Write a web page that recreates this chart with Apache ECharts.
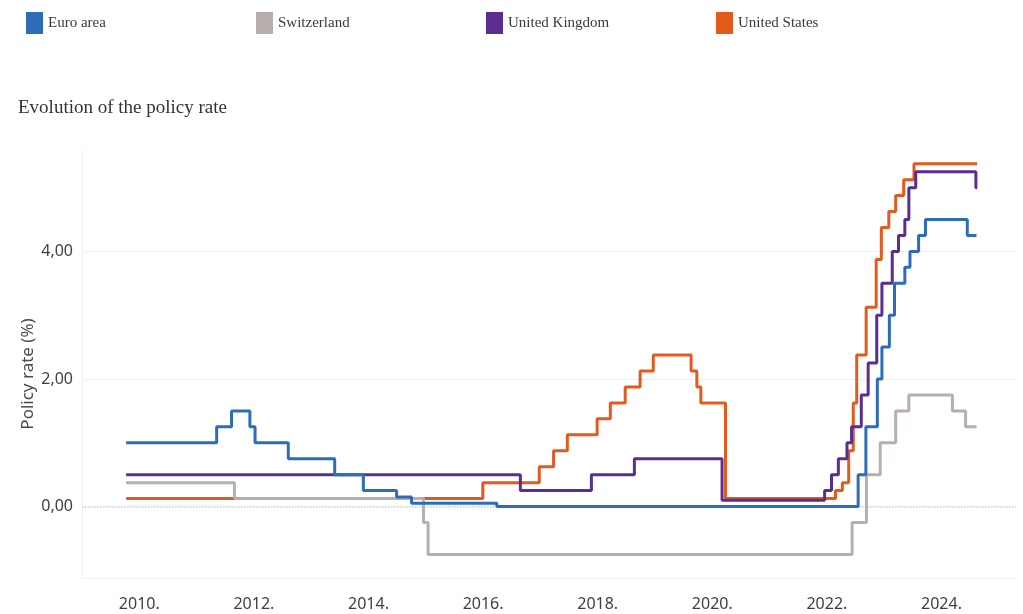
<!DOCTYPE html>
<html>
<head>
<meta charset="utf-8">
<script src="https://cdn.jsdelivr.net/npm/echarts@6/dist/echarts.min.js"></script>
<style>
  html, body { margin: 0; padding: 0; background: #fff; }
  #main { width: 1023px; height: 614px; }
</style>
</head>
<body>
<div id="main"></div>
<script>
    // [decimal year, rate %] - rate from that date onwards
    var euroArea = [
        [2009.77, 1.0], [2011.35, 1.25], [2011.61, 1.5], [2011.93, 1.25], [2012.02, 1.0],
        [2012.60, 0.75], [2013.41, 0.5], [2013.91, 0.25], [2014.49, 0.15], [2014.75, 0.05],
        [2016.24, 0.0], [2022.545, 0.5], [2022.68, 1.25], [2022.88, 2.0], [2022.96, 2.5],
        [2023.09, 3.0], [2023.18, 3.5], [2023.36, 3.75], [2023.45, 4.0], [2023.6, 4.25],
        [2023.72, 4.5], [2024.45, 4.25], [2024.61, 4.25]
    ];
    var switzerland = [
        [2009.77, 0.375], [2011.66, 0.125], [2014.96, -0.25], [2015.04, -0.75],
        [2022.44, -0.25], [2022.69, 0.5], [2022.93, 1.0], [2023.2, 1.5], [2023.43, 1.75],
        [2024.19, 1.5], [2024.42, 1.25], [2024.61, 1.25]
    ];
    var unitedKingdom = [
        [2009.77, 0.5], [2016.65, 0.25], [2017.89, 0.5], [2018.64, 0.75], [2020.17, 0.1],
        [2021.96, 0.25], [2022.08, 0.5], [2022.2, 0.75], [2022.35, 1.0], [2022.43, 1.25],
        [2022.6, 1.75], [2022.72, 2.25], [2022.87, 3.0], [2022.96, 3.5], [2023.14, 4.0],
        [2023.25, 4.25], [2023.36, 4.5], [2023.43, 5.0], [2023.55, 5.25], [2024.6, 5.0],
        [2024.62, 5.0]
    ];
    var unitedStates = [
        [2009.77, 0.125], [2015.995, 0.375], [2016.98, 0.625], [2017.23, 0.875], [2017.47, 1.125],
        [2017.99, 1.375], [2018.22, 1.625], [2018.48, 1.875], [2018.74, 2.125], [2018.97, 2.375],
        [2019.63, 2.125], [2019.73, 1.875], [2019.80, 1.625], [2020.23, 0.125], [2022.15, 0.25],
        [2022.27, 0.375], [2022.38, 0.875], [2022.46, 1.625], [2022.52, 2.375], [2022.685, 3.125],
        [2022.86, 3.875], [2022.95, 4.375], [2023.08, 4.625], [2023.2, 4.875], [2023.34, 5.125],
        [2023.52, 5.375], [2024.62, 5.375]
    ];
    var seriesNames = ['Euro area', 'Switzerland', 'United Kingdom', 'United States'];
    var seriesColors = ['#2c6cb9', '#b7afad', '#5b2d90', '#e35a1c'];
    var yearTicks = [2010, 2012, 2014, 2016, 2018, 2020, 2022, 2024];
    var rateTicks = [0, 2, 4];

    var chart = echarts.init(document.getElementById('main'));

    var allData = [euroArea, switzerland, unitedKingdom, unitedStates];
    var seriesData = [];
    var legends = [];
    for (var i = 0; i < allData.length; i++) {
        var s = {
            name: seriesNames[i],
            type: 'line',
            step: 'end',
            showSymbol: false,
            symbol: 'none',
            z: 10 - i,
            color: seriesColors[i],
            lineStyle: { width: 3, color: seriesColors[i] },
            data: allData[i]
        };
        if (i == 3) {
            // dotted zero line
            s.markLine = {
                silent: true,
                symbol: 'none',
                label: { show: false },
                lineStyle: { type: 'dotted', color: '#c9d4dd', width: 1.5 },
                data: [{ yAxis: 0 }]
            };
        }
        seriesData.push(s);
        // one legend per item so they sit on a fixed 230px pitch
        legends.push({
            data: [seriesNames[i]],
            left: 21 + i * 230,
            top: 7,
            icon: 'rect',
            itemWidth: 17,
            itemHeight: 22,
            itemGap: 0,
            textStyle: { fontFamily: 'Liberation Serif', fontSize: 15, color: '#3a3a3a' }
        });
    }

    var option = {
        animation: false,
        backgroundColor: '#fff',
        title: {
            text: 'Evolution of the policy rate',
            left: 13,
            top: 94,
            textStyle: { fontFamily: 'Liberation Serif', fontSize: 19, fontWeight: 'normal', color: '#333' }
        },
        legend: legends,
        grid: {
            left: 82,
            right: 7,
            top: 150,
            bottom: 36,
            containLabel: false,
            outerBoundsMode: 'none'
        },
        xAxis: {
            type: 'value',
            min: 2009,
            max: 2025.3,
            axisLine: { show: true, onZero: false, lineStyle: { color: '#eeeeee', width: 1 } },
            axisTick: { show: false, customValues: yearTicks },
            splitLine: { show: false },
            axisLabel: {
                customValues: yearTicks,
                margin: 18,
                fontFamily: 'Noto Sans',
                fontSize: 16,
                color: '#3f3f3f',
                formatter: function (v) { return v + '.'; }
            }
        },
        yAxis: {
            type: 'value',
            min: -1.12,
            max: 5.59,
            name: 'Policy rate (%)',
            nameLocation: 'middle',
            nameGap: 45,
            nameMoveOverlap: false,
            nameTextStyle: { fontFamily: 'Noto Sans', fontSize: 17, color: '#4a4a4a', padding: [0, 20, 0, 0] },
            axisLine: { show: true, lineStyle: { color: '#f0f0f0', width: 1 } },
            axisTick: { show: false, customValues: rateTicks },
            splitLine: { show: true, lineStyle: { color: '#f0f0f0', width: 1 } },
            axisLabel: {
                customValues: rateTicks,
                margin: 9,
                fontFamily: 'Noto Sans',
                fontSize: 16,
                color: '#3f3f3f',
                formatter: function (v) { return v.toFixed(2).replace('.', ','); }
            }
        },
        series: seriesData
    };

    chart.setOption(option);
</script>
</body>
</html>
